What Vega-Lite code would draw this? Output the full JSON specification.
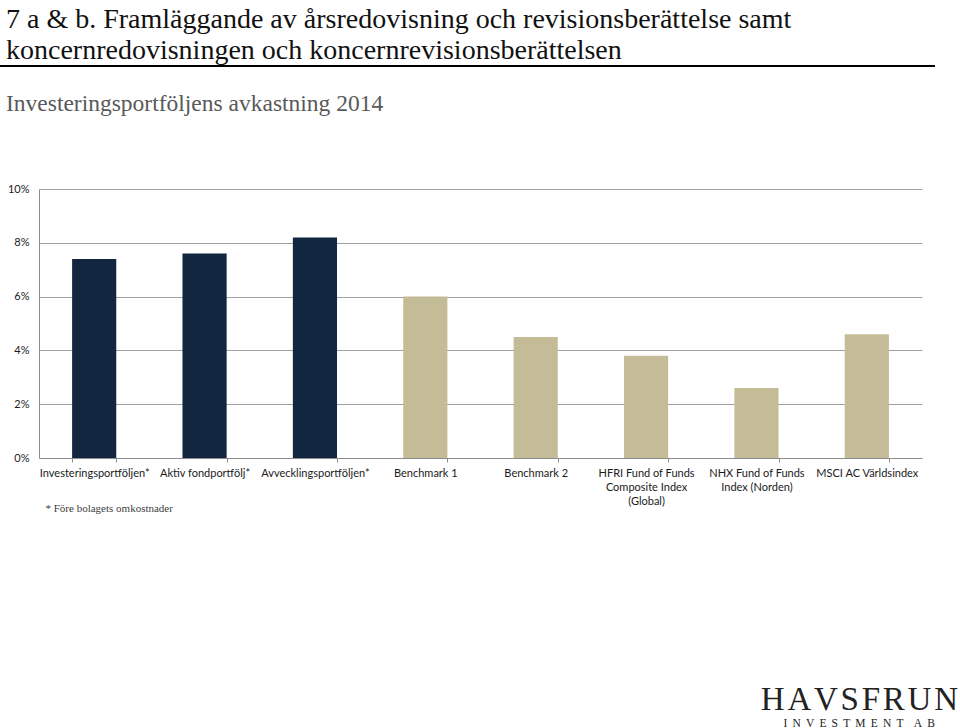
{
  "$schema": "https://vega.github.io/schema/vega-lite/v6.json",
  "autosize": {"type": "none"},
  "width": 883,
  "height": 269,
  "padding": {"left": 39, "top": 189, "right": 38, "bottom": 270},
  "background": "white",
  "title": {
    "text": ["7 a & b. Framläggande av årsredovisning och revisionsberättelse samt", "koncernredovisningen och koncernrevisionsberättelsen"],
    "subtitle": "Investeringsportföljens avkastning 2014",
    "anchor": "start",
    "frame": "group",
    "orient": "top",
    "font": "Liberation Serif",
    "fontSize": 28,
    "fontWeight": "normal",
    "color": "#111111",
    "lineHeight": 31,
    "subtitleFont": "Liberation Serif",
    "subtitleFontSize": 23.5,
    "subtitleColor": "#595959",
    "subtitlePadding": 27,
    "offset": -50,
    "dx": -33
  },
  "config": {
    "view": {"stroke": null},
    "axis": {"labelFont": "Lato", "labelColor": "#1a1a1a"}
  },
  "datasets": {
    "returns": [
      {"name": "Investeringsportföljen*", "value": 0.074, "type": "Portfölj"},
      {"name": "Aktiv fondportfölj*", "value": 0.076, "type": "Portfölj"},
      {"name": "Avvecklingsportföljen*", "value": 0.082, "type": "Portfölj"},
      {"name": "Benchmark 1", "value": 0.060, "type": "Jämförelse"},
      {"name": "Benchmark 2", "value": 0.045, "type": "Jämförelse"},
      {"name": "HFRI Fund of Funds Composite Index (Global)", "value": 0.038, "type": "Jämförelse"},
      {"name": "NHX Fund of Funds Index (Norden)", "value": 0.026, "type": "Jämförelse"},
      {"name": "MSCI AC Världsindex", "value": 0.046, "type": "Jämförelse"}
    ],
    "logo": [
      {"text": "H\u200aA\u200aV\u200aS\u200aF\u200aR\u200aU\u200aN", "kind": "big"},
      {"text": "I\u00a0\u2009N\u00a0\u2009V\u00a0\u2009E\u00a0\u2009S\u00a0\u2009T\u00a0\u2009M\u00a0\u2009E\u00a0\u2009N\u00a0\u2009T\u00a0\u2009\u00a0\u2009A\u00a0\u2009B", "kind": "small"}
    ]
  },
  "layer": [
    {
      "data": {"name": "returns"},
      "mark": {"type": "bar"},
      "encoding": {
        "x": {
          "field": "name",
          "type": "nominal",
          "sort": null,
          "scale": {"paddingInner": 0.6, "paddingOuter": 0.3},
          "axis": {
            "title": "* Före bolagets omkostnader",
            "titleFont": "Liberation Serif",
            "titleFontSize": 11,
            "titleFontWeight": "normal",
            "titleColor": "#404040",
            "titleAnchor": "start",
            "titleAlign": "left",
            "titleBaseline": "middle",
            "titleX": 6,
            "titleY": 50,
            "labelAngle": 0,
            "labelFontSize": 11,
            "labelLimit": 0,
            "labelPadding": 5,
            "labelLineHeight": 14,
            "labelBaseline": "top",
            "labelExpr": "datum.value == 'HFRI Fund of Funds Composite Index (Global)' ? ['HFRI Fund of Funds', 'Composite Index', '(Global)'] : datum.value == 'NHX Fund of Funds Index (Norden)' ? ['NHX Fund of Funds', 'Index (Norden)'] : datum.label",
            "tickBand": "extent",
            "tickSize": 4,
            "tickColor": "#8c8c8c",
            "domainColor": "#8c8c8c",
            "grid": false
          }
        },
        "y": {
          "field": "value",
          "type": "quantitative",
          "scale": {"domain": [0, 0.1]},
          "axis": {
            "title": null,
            "format": ".0%",
            "values": [0, 0.02, 0.04, 0.06, 0.08, 0.1],
            "labelFontSize": 11,
            "labelPadding": 10,
            "ticks": false,
            "domainColor": "#8c8c8c",
            "gridColor": "#a0a0a0",
            "gridWidth": 1.2
          }
        },
        "color": {
          "field": "type",
          "type": "nominal",
          "scale": {"domain": ["Portfölj", "Jämförelse"], "range": ["#12263f", "#c4bc96"]},
          "legend": null
        }
      }
    },
    {
      "data": {"values": [{"line": "rubrik"}]},
      "mark": {"type": "rule", "color": "#000000", "strokeWidth": 2},
      "encoding": {
        "x": {"value": -39},
        "x2": {"value": 896},
        "y": {"value": -123}
      }
    },
    {
      "data": {"name": "logo"},
      "transform": [{"filter": "datum.kind == 'big'"}],
      "mark": {"type": "text", "font": "Liberation Serif", "fontSize": 33, "align": "right", "baseline": "alphabetic", "color": "#222222"},
      "encoding": {
        "text": {"field": "text"},
        "x": {"value": 919},
        "y": {"value": 521}
      }
    },
    {
      "data": {"name": "logo"},
      "transform": [{"filter": "datum.kind == 'small'"}],
      "mark": {"type": "text", "font": "Liberation Serif", "fontSize": 11.5, "align": "right", "baseline": "alphabetic", "color": "#222222"},
      "encoding": {
        "text": {"field": "text"},
        "x": {"value": 896},
        "y": {"value": 538}
      }
    }
  ]
}
